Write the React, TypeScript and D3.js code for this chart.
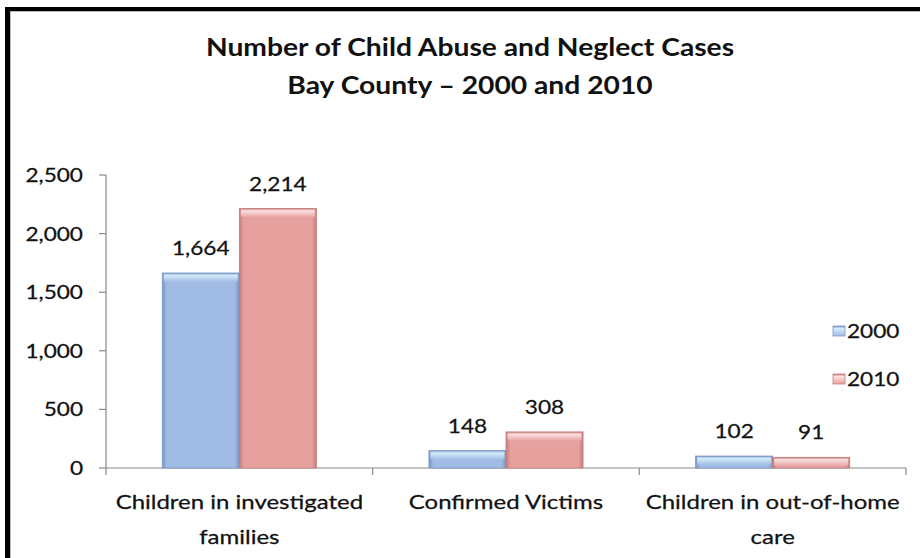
import React from "react";
import * as d3 from "d3";

const titleLines = ["Number of Child Abuse and Neglect Cases", "Bay County \u2013 2000 and 2010"];
const categoryLines = [["Children in investigated", "families"], ["Confirmed Victims"], ["Children in out-of-home", "care"]];
const seriesNames = ["2000", "2010"];
const values2000 = [1664, 148, 102];
const values2010 = [2214, 308, 91];
const yTicks = [0, 500, 1000, 1500, 2000, 2500];

const W = 920;
const H = 558;
const FONT = "Lato, 'Open Sans', sans-serif";
const SX = 1.16;

const baseColors = [
  { edge: "#7896c4", mid: "#a0bce4", top: "#d4ecfa" },
  { edge: "#c47d7c", mid: "#e6a19f", top: "#fbe0e0" },
];

function T(props: { x: number; y: number; anchor?: string; size: number; bold?: boolean; sx?: number; fill?: string; children: React.ReactNode }) {
  const { x, y, anchor = "middle", size, bold, sx = SX, fill = "#111", children } = props;
  return (
    <text
      transform={`translate(${x},${y}) scale(${sx},1)`}
      textAnchor={anchor}
      fontFamily={FONT}
      fontSize={size}
      fontWeight={bold ? 700 : 400}
      fill={fill}
      stroke={bold ? "none" : fill}
      strokeWidth={bold ? 0 : 0.25}
    >
      {children}
    </text>
  );
}

export default function App() {
  const left = 106, right = 906, top = 175, bottom = 468;
  const y = d3.scaleLinear().domain([0, 2500]).range([bottom, top]);
  const cats = categoryLines.map((l) => l.join(" "));
  const x0 = d3.scaleBand<string>().domain(cats).range([left, right]).paddingInner(0).paddingOuter(0);
  const x1 = d3.scaleBand<string>().domain(seriesNames).range([0, x0.bandwidth()]).paddingInner(0).paddingOuter(0.73);
  const series = [values2000, values2010];
  const boundaries = [...cats.map((c) => x0(c) as number), right];

  return (
    <svg width={W} height={H} style={{ position: "absolute", left: 0, top: 0, background: "#fff" }}>
      <defs>
        {baseColors.map((c, i) => (
          <React.Fragment key={i}>
            <linearGradient id={`side${i}`} x1="0" x2="1" y1="0" y2="0">
              <stop offset="0" stopColor={c.edge} />
              <stop offset="0.06" stopColor={c.mid} />
              <stop offset="0.94" stopColor={c.mid} />
              <stop offset="1" stopColor={c.edge} />
            </linearGradient>
            <linearGradient id={`top${i}`} x1="0" x2="0" y1="0" y2="1">
              <stop offset="0" stopColor={c.edge} />
              <stop offset="0.25" stopColor={c.top} />
              <stop offset="1" stopColor={c.mid} />
            </linearGradient>
          </React.Fragment>
        ))}
      </defs>
      <rect x={0} y={0} width={W} height={H} fill="#fff" />
      {/* frame */}
      <line x1={7.5} x2={7.5} y1={7} y2={H} stroke="#000" strokeWidth={5} />
      <line x1={5} x2={W} y1={9} y2={9} stroke="#000" strokeWidth={4} />
      <line x1={10.5} x2={10.5} y1={11} y2={H} stroke="#bbb" strokeWidth={1} />
      <line x1={10} x2={W} y1={11.5} y2={11.5} stroke="#bbb" strokeWidth={1} />

      {/* title */}
      {titleLines.map((t, i) => (
        <T key={t} x={470} y={56 + i * 37.5} size={25} bold sx={1.13}>
          {t}
        </T>
      ))}

      {/* y axis */}
      <line x1={left} x2={left} y1={top} y2={bottom} stroke="#8a8a8a" strokeWidth={1.2} />
      {yTicks.map((v) => (
        <g key={v}>
          <line x1={left - 7} x2={left} y1={y(v)} y2={y(v)} stroke="#8a8a8a" strokeWidth={1.2} />
          <T x={83} y={y(v) + 7} anchor="end" size={19.5}>
            {d3.format(",")(v)}
          </T>
        </g>
      ))}

      {/* x axis */}
      <line x1={left} x2={right} y1={bottom} y2={bottom} stroke="#8a8a8a" strokeWidth={1.2} />
      {boundaries.map((b, i) => (
        <line key={i} x1={b} x2={b} y1={bottom} y2={bottom + 7} stroke="#8a8a8a" strokeWidth={1.2} />
      ))}

      {/* bars */}
      {cats.map((c, ci) =>
        series.map((vals, si) => {
          const bx = (x0(c) as number) + (x1(seriesNames[si]) as number);
          const bw = x1.bandwidth();
          const by = y(vals[ci]);
          const bh = bottom - by;
          const th = Math.min(9, bh);
          return (
            <g key={`${ci}-${si}`}>
              <rect x={bx} y={by} width={bw} height={bh} fill={`url(#side${si})`} />
              <rect x={bx + 1.5} y={by} width={bw - 3} height={th} rx={2} fill={`url(#top${si})`} />
              <rect x={bx} y={by} width={bw} height={bh} fill="none" stroke={baseColors[si].edge} strokeWidth={0.8} />
              <T x={bx + bw / 2} y={by - 18} size={19.5}>
                {d3.format(",")(vals[ci])}
              </T>
            </g>
          );
        })
      )}

      {/* category labels */}
      {categoryLines.map((lines, ci) =>
        lines.map((ln, li) => (
          <T key={`${ci}-${li}`} x={(x0(cats[ci]) as number) + x0.bandwidth() / 2} y={509 + li * 35} size={19.5} sx={1.23}>
            {ln}
          </T>
        ))
      )}

      {/* legend */}
      {seriesNames.map((s, si) => (
        <g key={s}>
          <rect x={833} y={326 + si * 48} width={12} height={10} fill={`url(#top${si})`} stroke={baseColors[si].edge} strokeWidth={0.8} />
          <T x={847} y={338 + si * 48} anchor="start" size={19.5}>
            {s}
          </T>
        </g>
      ))}
    </svg>
  );
}
